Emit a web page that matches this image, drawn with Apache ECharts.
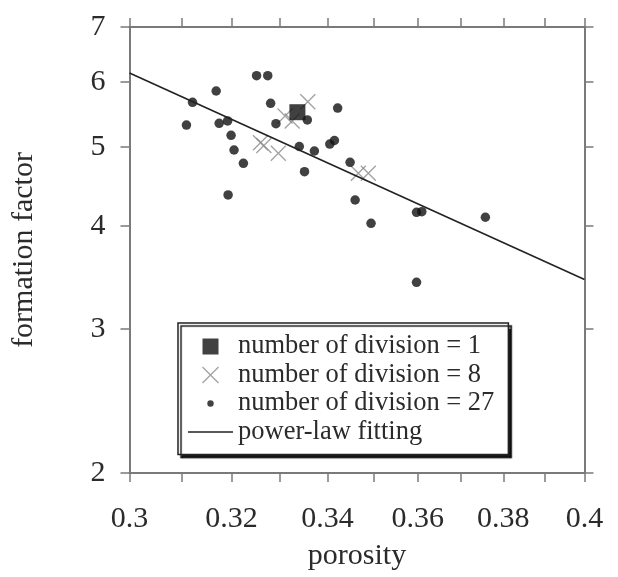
<!DOCTYPE html>
<html>
<head>
<meta charset="utf-8">
<script src="https://cdn.jsdelivr.net/npm/echarts@6/dist/echarts.min.js"></script>
<style>html,body{margin:0;padding:0;background:#fff;}#c{width:618px;height:577px;}</style>
</head>
<body>
<div id="c"></div>
<script>
// ---- data ----
const div1 = [[0.3336, 5.51]];
const div8 = [[0.3358, 5.675], [0.3310, 5.452], [0.3325, 5.376], [0.3259, 5.058], [0.3266, 5.018], [0.3296, 4.909], [0.3467, 4.641], [0.3489, 4.641]];
const div27 = [
  [0.3110, 5.315], [0.3122, 5.665], [0.3169, 5.848], [0.3175, 5.341], [0.3192, 5.376],
  [0.3199, 5.164], [0.3205, 4.955], [0.3224, 4.773], [0.3193, 4.367], [0.3251, 6.105],
  [0.3274, 6.105], [0.3280, 5.650], [0.3291, 5.335], [0.3357, 5.391], [0.3340, 5.004],
  [0.3372, 4.941], [0.3351, 4.662], [0.3422, 5.575], [0.3405, 5.039], [0.3415, 5.089],
  [0.3449, 4.787], [0.3460, 4.306], [0.3495, 4.033], [0.3597, 4.160], [0.3609, 4.167],
  [0.3757, 4.102], [0.3597, 3.417]
];
const fitLine = [[0.3, 6.15], [0.4, 3.445]];
const xTicks = [0.3, 0.31, 0.32, 0.33, 0.34, 0.35, 0.36, 0.37, 0.38, 0.39, 0.4];
const xLabels = [0.3, 0.32, 0.34, 0.36, 0.38, 0.4];
const yTicks = [2, 3, 4, 5, 6, 7];
const names = ['number of division = 1', 'number of division = 8', 'number of division = 27', 'power-law fitting'];

const FONT = '"Liberation Serif", "DejaVu Serif", serif';
const AX = '#7a7a7a';
const TXT = '#2b2b2b';

const chart = echarts.init(document.getElementById('c'), null, {renderer: 'canvas'});

function xAxisDef(pos, showLabel) {
  return {
    type: 'log', logBase: 10, min: 0.3, max: 0.4, position: pos,
    name: showLabel ? 'porosity' : '', nameLocation: 'middle', nameGap: 68,
    nameTextStyle: {fontFamily: FONT, fontSize: 30, color: TXT},
    axisLine: {show: true, onZero: false, lineStyle: {color: AX, width: 2}},
    axisTick: {show: true, inside: false, length: 9, customValues: xTicks, lineStyle: {color: AX, width: 1.5}},
    minorTick: {show: false},
    axisLabel: {show: showLabel, customValues: xLabels, margin: 31, fontFamily: FONT, fontSize: 30, color: TXT,
      formatter: v => String(+(+v).toFixed(2))},
    splitLine: {show: false}
  };
}
function yAxisDef(pos, showLabel) {
  return {
    type: 'log', logBase: 10, min: 2, max: 7, position: pos,
    name: showLabel ? 'formation factor' : '', nameLocation: 'middle', nameGap: 90,
    nameTextStyle: {fontFamily: FONT, fontSize: 30, color: TXT},
    axisLine: {show: true, onZero: false, lineStyle: {color: AX, width: 2}},
    axisTick: {show: true, inside: false, length: 9, customValues: yTicks, lineStyle: {color: AX, width: 1.5}},
    axisLabel: {show: showLabel, customValues: yTicks, margin: 24, fontFamily: FONT, fontSize: 30, color: TXT,
      formatter: v => String(Math.round(+v))},
    splitLine: {show: false}
  };
}

const dotLegendIcon = 'path://M0,0M20,20M6,10a4,4 0 1,0 8,0a4,4 0 1,0 -8,0Z';
const squareIcon = 'path://M0,0H10V10H0Z';
const crossPath = 'path://M0,0L10,10M10,0L0,10';
const lineIcon = 'path://M0,0H45V1.6H0Z';

chart.setOption({
  animation: false,
  backgroundColor: '#fff',
  grid: {left: 129.5, right: 33.5, top: 27, bottom: 104, containLabel: false, outerBoundsMode: 'none'},
  xAxis: [xAxisDef('bottom', true), xAxisDef('top', false)],
  yAxis: [yAxisDef('left', true), yAxisDef('right', false)],
  legend: {
    orient: 'vertical', left: 178, top: 323,
    padding: [10, 14, 9, 10],
    itemWidth: 45, itemHeight: 16, itemGap: 1.5,
    backgroundColor: '#fff', borderColor: '#222', borderWidth: 1.5,
    shadowColor: 'rgba(0,0,0,0.9)', shadowBlur: 1, shadowOffsetX: 3, shadowOffsetY: 3,
    textStyle: {fontFamily: FONT, fontSize: 26.5, color: TXT, padding: [0, 0, 0, 0]},
    itemStyle: {borderWidth: 1.3},
    data: [
      {name: names[0], icon: squareIcon, itemStyle: {borderWidth: 0}},
      {name: names[1], icon: crossPath},
      {name: names[2], icon: dotLegendIcon, itemStyle: {borderWidth: 0}},
      {name: names[3], icon: lineIcon, itemStyle: {color: '#222', borderWidth: 0}}
    ]
  },
  series: [
    {
      name: names[1], type: 'scatter', data: div8, symbol: crossPath, symbolSize: 15,
      itemStyle: {color: 'none', borderColor: '#8a8a8a', borderWidth: 1.3}, z: 2
    },
    {
      name: names[2], type: 'scatter', data: div27, symbol: 'circle', symbolSize: 9.5,
      itemStyle: {color: '#111'}, z: 3
    },
    {
      name: names[0], type: 'scatter', data: div1, symbol: 'rect', symbolSize: 16,
      itemStyle: {color: '#111'}, z: 4
    },
    {
      name: names[3], type: 'line', data: fitLine, showSymbol: false, symbol: 'none',
      itemStyle: {color: '#222'},
      lineStyle: {color: '#222', width: 1.6}, z: 5
    }
  ]
});
</script>
</body>
</html>
